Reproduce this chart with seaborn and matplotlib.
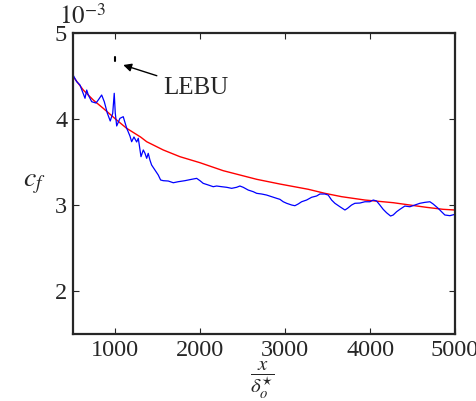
import pandas as pd
import matplotlib
matplotlib.use("Agg")
import matplotlib.pyplot as plt
import seaborn as sns

# skin friction, in units of 1e-3
X_CORR = [500, 625, 742, 860, 1018, 1135, 1300, 1371, 1566, 1762, 1998, 2272,
          2665, 2939, 3272, 3468, 3665, 3939, 4272, 4468, 4665, 4860, 5000]
CF_CORR = [4.50, 4.337, 4.221, 4.124, 3.988, 3.892, 3.79, 3.736, 3.640, 3.562,
           3.492, 3.399, 3.299, 3.244, 3.183, 3.136, 3.097, 3.058, 3.027, 3.0,
           2.973, 2.950, 2.942]

X_SIM = [500, 547, 586, 645, 665, 684, 724, 774, 801, 841, 872, 907, 942, 971,
         989, 1001, 1018, 1056, 1095, 1135, 1174, 1194, 1221, 1253, 1272, 1304,
         1331, 1351, 1371, 1389, 1409, 1429, 1468, 1507, 1535, 1566, 1625, 1684,
         1742, 1821, 1900, 1959, 1998, 2036, 2095, 2154, 2194, 2253, 2312, 2371,
         2429, 2468, 2507, 2566, 2625, 2665, 2724, 2782, 2841, 2900, 2939, 2978,
         3018, 3077, 3115, 3154, 3194, 3253, 3312, 3371, 3409, 3468, 3507, 3547,
         3586, 3645, 3704, 3735, 3782, 3821, 3880, 3939, 3998, 4037, 4076, 4115,
         4154, 4194, 4241, 4272, 4312, 4351, 4409, 4468, 4527, 4586, 4645, 4704,
         4742, 4801, 4841, 4880, 4939, 5000]
CF_SIM = [4.52, 4.434, 4.395, 4.241, 4.337, 4.279, 4.201, 4.186, 4.221, 4.279,
          4.201, 4.070, 3.977, 4.066, 4.299, 4.070, 3.919, 4.008, 4.027, 3.895,
          3.802, 3.736, 3.791, 3.733, 3.776, 3.562, 3.640, 3.601, 3.543, 3.601,
          3.523, 3.465, 3.407, 3.349, 3.291, 3.283, 3.279, 3.259, 3.271, 3.283,
          3.299, 3.310, 3.283, 3.252, 3.233, 3.213, 3.221, 3.213, 3.206, 3.194,
          3.206, 3.221, 3.206, 3.174, 3.155, 3.136, 3.128, 3.116, 3.097, 3.078,
          3.066, 3.038, 3.020, 3.0, 2.992, 3.012, 3.038, 3.058, 3.090, 3.105,
          3.128, 3.128, 3.116, 3.058, 3.020, 2.980, 2.942, 2.962, 3.0, 3.020,
          3.023, 3.038, 3.038, 3.058, 3.047, 3.0, 2.950, 2.910, 2.872, 2.884,
          2.922, 2.950, 2.988, 2.980, 3.0, 3.020, 3.031, 3.038, 3.012, 2.962,
          2.922, 2.884, 2.876, 2.892]

LEBU_X = [1000, 1000]
LEBU_CF = [4.678, 4.724]

X_TICKS = [1000, 2000, 3000, 4000, 5000]
Y_TICKS = [2, 3, 4, 5]

sns.set_style("ticks")
plt.rcParams["font.family"] = ["Liberation Serif", "DejaVu Serif"]
plt.rcParams["mathtext.fontset"] = "stix"
plt.rcParams["xtick.direction"] = "in"
plt.rcParams["ytick.direction"] = "in"
plt.rcParams["xtick.top"] = True
plt.rcParams["ytick.right"] = True

corr = pd.DataFrame({"x": X_CORR, "cf": CF_CORR})
sim = pd.DataFrame({"x": X_SIM, "cf": CF_SIM})

fig = plt.figure(figsize=(4.76, 4.01), dpi=100)
ax = fig.add_axes([0.1527, 0.167, 0.8033, 0.7507])

sns.lineplot(data=corr, x="x", y="cf", color="#ff0000", linewidth=1.0, sort=False, ax=ax)
sns.lineplot(data=sim, x="x", y="cf", color="#0000ff", linewidth=0.9, sort=False, ax=ax)
ax.plot(LEBU_X, LEBU_CF, color="black", linewidth=1.5)

ax.annotate("LEBU", xy=(1095, 4.628), xytext=(1560, 4.36),
            fontsize=18, va="center", ha="left",
            arrowprops=dict(arrowstyle="-|>", color="black", lw=1.0,
                            mutation_scale=12, shrinkA=2, shrinkB=0))

ax.set_xlim(500, 5000)
ax.set_ylim(1.5, 5)
ax.set_xticks(X_TICKS)
ax.set_yticks(Y_TICKS)
ax.tick_params(labelsize=17.5, length=4, width=0.8, pad=4)
for sp in ax.spines.values():
    sp.set_linewidth(1.6)

ax.set_xlabel(r"$\dfrac{x}{\delta_o^{\star}}$", fontsize=15)
ax.xaxis.set_label_coords(0.495, -0.154)
ax.xaxis.label.set_va("center")
ax.set_ylabel(r"$c_f$", fontsize=20, rotation=0)
ax.yaxis.set_label_coords(-0.1, 0.5)
ax.yaxis.label.set_va("center")

ax.text(-0.035, 1.015, r"$10^{-3}$", transform=ax.transAxes, fontsize=18,
        ha="left", va="bottom")

fig.savefig("out.png", dpi=100)
